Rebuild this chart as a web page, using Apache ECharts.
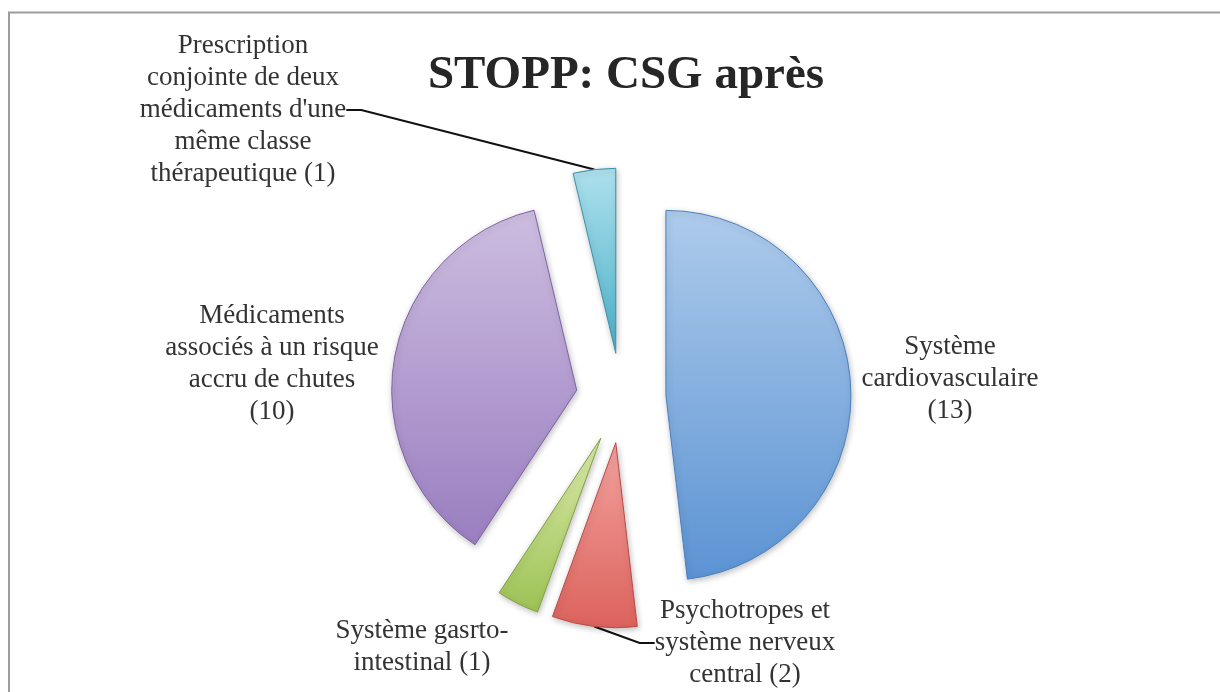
<!DOCTYPE html>
<html>
<head>
<meta charset="utf-8">
<script src="https://cdn.jsdelivr.net/npm/echarts@6/dist/echarts.min.js"></script>
<style>
  html, body { margin: 0; padding: 0; background: #fff; }
  #chart { width: 1220px; height: 692px; }
</style>
</head>
<body>
<div id="chart"></div>
<script>
const categories = [
  "Système\ncardiovasculaire",
  "Psychotropes et\nsystème nerveux\ncentral",
  "Système gasrto-\nintestinal",
  "Médicaments\nassociés à un risque\naccru de chutes",
  "Prescription\nconjointe de deux\nmédicaments d'une\nmême classe\nthérapeutique",
];
const values = [13, 2, 1, 10, 1];
const valueBreaks = ["\n", " ", " ", "\n", " "];
const hasLeader = [false, true, false, false, true];

// label anchor points (centre of text block)
const labelSpots = [
  [950, 379],
  [745, 643],
  [422, 647],
  [272, 364],
  [243, 110],
];

const sliceColors = [
  ["#aecbeb", "#5b93d3", "#4a7fbf"],
  ["#f3a29e", "#dc625c", "#b94a45"],
  ["#dcebab", "#9cc255", "#7fa33f"],
  ["#cdbde0", "#9a7ec0", "#7d63a3"],
  ["#aee0ec", "#4bb0ca", "#3592ab"],
];

const pieCenter = [621, 398];
const pieRadius = 185;
const explode = 45;

const chart = echarts.init(document.querySelector("#chart"));

const total = values.reduce((a, b) => a + b, 0);
let running = 0;
const midAngles = values.map((v) => {
  const mid = ((running + v / 2) / total) * 2 * Math.PI;
  running += v;
  return mid;
});

// one pie per slice, each shifted outwards along its own mid angle
const series = values.map((_, i) => ({
  type: "pie",
  center: [
    pieCenter[0] + explode * Math.sin(midAngles[i]),
    pieCenter[1] - explode * Math.cos(midAngles[i]),
  ],
  radius: pieRadius,
  startAngle: 90,
  clockwise: true,
  avoidLabelOverlap: false,
  silent: true,
  z: 2,
  data: values.map((value, j) => {
    if (j !== i) {
      return {
        name: categories[j],
        value,
        itemStyle: { color: "rgba(0,0,0,0)", borderWidth: 0, shadowBlur: 0 },
        label: { show: false },
        labelLine: { show: false },
      };
    }
    return {
      name: categories[j],
      value,
      itemStyle: {
        color: {
          type: "linear",
          x: 0, y: 0, x2: 0, y2: 1,
          colorStops: [
            { offset: 0, color: sliceColors[j][0] },
            { offset: 1, color: sliceColors[j][1] },
          ],
        },
        borderColor: sliceColors[j][2],
        borderWidth: 1,
        shadowBlur: 6,
        shadowColor: "rgba(0,0,0,0.25)",
        shadowOffsetX: 1,
        shadowOffsetY: 2,
      },
      label: { show: true },
      labelLine: { show: hasLeader[j] },
    };
  }),
  emphasis: { disabled: true },
  label: {
    position: "outside",
    fontFamily: "Liberation Serif",
    fontSize: 27,
    lineHeight: 32,
    color: "#333333",
    formatter: (p) => `${p.name}${valueBreaks[p.dataIndex]}(${p.value})`,
  },
  labelLine: {
    length: 20,
    length2: 15,
    lineStyle: { color: "#111", width: 2 },
  },
  labelLayout: () => ({
    x: labelSpots[i][0],
    y: labelSpots[i][1],
    align: "center",
    verticalAlign: "middle",
  }),
}));

chart.setOption({
  animation: false,
  title: {
    text: "STOPP: CSG après",
    left: 621,
    top: 47,
    textAlign: "center",
    textStyle: {
      fontFamily: "Liberation Serif",
      fontWeight: "bold",
      fontSize: 47,
      color: "#262626",
    },
  },
  graphic: [
    {
      type: "rect",
      shape: { x: 9, y: 12.5, width: 1400, height: 900 },
      style: { fill: "none", stroke: "#9c9c9c", lineWidth: 2 },
      silent: true,
    },
  ],
  series,
});
</script>
</body>
</html>
